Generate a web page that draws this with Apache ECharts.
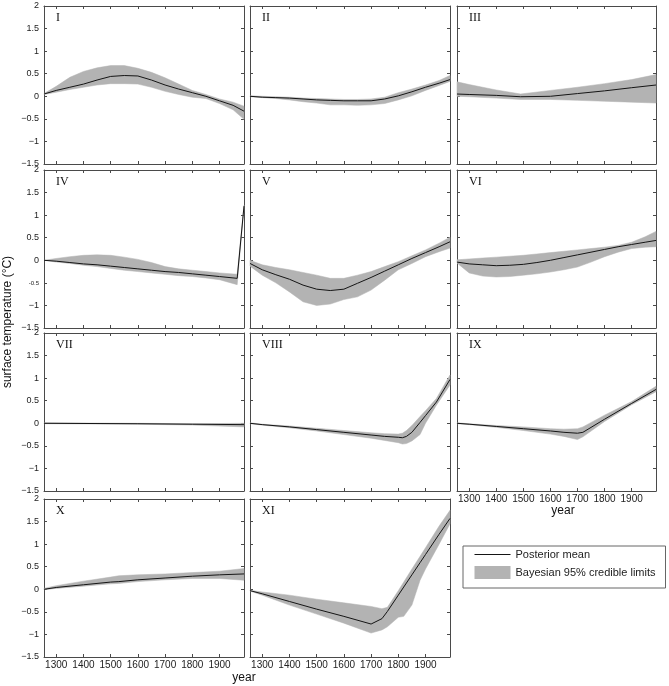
<!DOCTYPE html>
<html>
<head>
<meta charset="utf-8">
<title>Surface temperature reconstructions</title>
<script src="https://cdn.jsdelivr.net/npm/echarts@6/dist/echarts.min.js"></script>
<style>
html, body { margin: 0; padding: 0; background: #fff; }
#chart { width: 669px; height: 686px; }
</style>
</head>
<body>
<div id="chart"></div>
<script>
// year grids
const yearsA = [1255, 1300, 1350, 1400, 1450, 1500, 1550, 1600, 1650, 1700, 1750, 1800, 1850, 1900, 1950, 1990]
const yearsIII = [1255, 1300, 1400, 1490, 1600, 1700, 1800, 1900, 1990]
const yearsIV = [1255, 1300, 1350, 1400, 1450, 1500, 1550, 1600, 1650, 1700, 1750, 1800, 1850, 1900, 1965, 1990]
const yearsVII = [1255, 1600, 1800, 1990]
const yearsVIII = [1255, 1300, 1400, 1500, 1600, 1700, 1750, 1800, 1815, 1830, 1850, 1880, 1900, 1940, 1990]
const yearsIX = [1255, 1300, 1400, 1500, 1600, 1650, 1700, 1720, 1800, 1900, 1990]
const yearsX = [1255, 1300, 1400, 1500, 1530, 1600, 1700, 1800, 1900, 1990]
const yearsXI = [1255, 1300, 1400, 1500, 1600, 1700, 1740, 1760, 1800, 1820, 1850, 1880, 1900, 1950, 1990]

// posterior mean / lower / upper credible limits
const meanI = [0.05, 0.13, 0.2, 0.27, 0.36, 0.44, 0.46, 0.45, 0.36, 0.25, 0.16, 0.08, 0.0, -0.1, -0.2, -0.33]
const loI = [0.04, 0.09, 0.15, 0.2, 0.25, 0.28, 0.28, 0.27, 0.2, 0.11, 0.04, -0.02, -0.05, -0.16, -0.3, -0.51]
const hiI = [0.06, 0.22, 0.42, 0.55, 0.63, 0.68, 0.68, 0.62, 0.53, 0.41, 0.27, 0.13, 0.04, -0.06, -0.13, -0.22]

const meanII = [0, -0.02, -0.03, -0.04, -0.06, -0.08, -0.09, -0.1, -0.1, -0.1, -0.06, 0.01, 0.1, 0.2, 0.29, 0.37]
const loII = [-0.01, -0.03, -0.05, -0.08, -0.12, -0.15, -0.19, -0.19, -0.2, -0.19, -0.16, -0.08, 0.01, 0.13, 0.24, 0.33]
const hiII = [0.01, 0, -0.01, -0.02, -0.04, -0.05, -0.06, -0.07, -0.07, -0.06, -0.02, 0.08, 0.16, 0.25, 0.35, 0.46]

const meanIII = [0.05, 0.04, 0.02, -0.01, 0, 0.06, 0.12, 0.19, 0.25]
const loIII = [0, -0.01, -0.04, -0.07, -0.07, -0.09, -0.11, -0.13, -0.15]
const hiIII = [0.32, 0.26, 0.14, 0.05, 0.13, 0.2, 0.28, 0.37, 0.48]

const meanIV = [0, -0.02, -0.05, -0.08, -0.1, -0.13, -0.16, -0.19, -0.22, -0.25, -0.27, -0.3, -0.33, -0.36, -0.4, 1.2]
const loIV = [0, -0.04, -0.07, -0.11, -0.14, -0.18, -0.22, -0.25, -0.28, -0.31, -0.34, -0.36, -0.39, -0.43, -0.54, 1.18]
const hiIV = [0, 0.04, 0.08, 0.11, 0.12, 0.11, 0.07, 0.02, -0.05, -0.14, -0.19, -0.22, -0.25, -0.28, -0.31, 1.22]

const meanV = [-0.07, -0.21, -0.32, -0.42, -0.55, -0.64, -0.67, -0.64, -0.51, -0.38, -0.24, -0.1, 0.04, 0.17, 0.3, 0.41]
const loV = [-0.13, -0.33, -0.5, -0.7, -0.92, -1.0, -0.97, -0.87, -0.81, -0.66, -0.44, -0.21, -0.07, 0.08, 0.19, 0.27]
const hiV = [0, -0.1, -0.16, -0.21, -0.27, -0.33, -0.4, -0.4, -0.33, -0.25, -0.14, -0.03, 0.1, 0.23, 0.38, 0.51]

const meanVI = [-0.04, -0.08, -0.1, -0.12, -0.11, -0.09, -0.05, 0, 0.06, 0.12, 0.18, 0.24, 0.3, 0.35, 0.4, 0.44]
const loVI = [-0.06, -0.28, -0.35, -0.37, -0.36, -0.33, -0.3, -0.26, -0.21, -0.15, -0.04, 0.08, 0.18, 0.26, 0.29, 0.3]
const hiVI = [0.01, 0.03, 0.05, 0.07, 0.09, 0.11, 0.14, 0.17, 0.2, 0.23, 0.26, 0.29, 0.33, 0.4, 0.52, 0.64]

const meanVII = [0, -0.01, -0.02, -0.03]
const loVII = [-0.01, -0.02, -0.04, -0.08]
const hiVII = [0.01, 0, -0.01, 0]

const meanVIII = [0, -0.03, -0.08, -0.14, -0.2, -0.26, -0.29, -0.31, -0.32, -0.29, -0.2, 0.02, 0.17, 0.47, 0.97]
const loVIII = [-0.01, -0.04, -0.1, -0.17, -0.25, -0.33, -0.38, -0.43, -0.46, -0.45, -0.39, -0.25, 0.0, 0.4, 0.85]
const hiVIII = [0.01, -0.02, -0.06, -0.11, -0.16, -0.21, -0.23, -0.24, -0.22, -0.16, -0.05, 0.15, 0.28, 0.55, 1.07]

const meanIX = [0, -0.02, -0.07, -0.12, -0.17, -0.2, -0.22, -0.2, 0.09, 0.44, 0.75]
const loIX = [-0.01, -0.03, -0.09, -0.16, -0.24, -0.29, -0.36, -0.3, 0.04, 0.41, 0.7]
const hiIX = [0.01, -0.01, -0.05, -0.08, -0.12, -0.13, -0.12, -0.08, 0.18, 0.48, 0.82]

const meanX = [0, 0.04, 0.1, 0.16, 0.17, 0.21, 0.25, 0.29, 0.32, 0.34]
const loX = [-0.01, 0.02, 0.07, 0.12, 0.13, 0.17, 0.21, 0.24, 0.24, 0.2]
const hiX = [0.02, 0.08, 0.18, 0.27, 0.3, 0.32, 0.34, 0.37, 0.4, 0.46]

const meanXI = [-0.03, -0.1, -0.27, -0.44, -0.6, -0.77, -0.65, -0.49, -0.13, 0.05, 0.32, 0.59, 0.77, 1.22, 1.57]
const loXI = [-0.04, -0.13, -0.35, -0.55, -0.75, -0.97, -0.9, -0.83, -0.62, -0.6, -0.35, 0.2, 0.45, 1.0, 1.45]
const hiXI = [-0.02, -0.06, -0.13, -0.22, -0.3, -0.38, -0.43, -0.4, -0.03, 0.16, 0.45, 0.73, 0.92, 1.4, 1.75]

const panelNames = ['I', 'II', 'III', 'IV', 'V', 'VI', 'VII', 'VIII', 'IX', 'X', 'XI']
const xTickYears = [1300, 1400, 1500, 1600, 1700, 1800, 1900]
const yearMin = 1255
const yearMax = 1990
const tempMin = -1.5
const tempMax = 2

const panels = [
  [yearsA, meanI, loI, hiI],
  [yearsA, meanII, loII, hiII],
  [yearsIII, meanIII, loIII, hiIII],
  [yearsIV, meanIV, loIV, hiIV],
  [yearsA, meanV, loV, hiV],
  [yearsA, meanVI, loVI, hiVI],
  [yearsVII, meanVII, loVII, hiVII],
  [yearsVIII, meanVIII, loVIII, hiVIII],
  [yearsIX, meanIX, loIX, hiIX],
  [yearsX, meanX, loX, hiX],
  [yearsXI, meanXI, loXI, hiXI]
]

// layout
const colLeft = [44, 250, 457]
const rowTop = [6, 170, 333, 499]
const panelW = 200
const panelH = 158
const sans = '"Liberation Sans", Arial, sans-serif'
const serif = '"Liberation Serif", "Times New Roman", serif'
const axisColor = '#4a4a4a'
const bandColor = '#b3b3b3'
const meanName = 'Posterior mean'
const bandName = 'Bayesian 95% credible limits'

const fmtTemp = (v) => (v < 0 ? '\u2212' + Math.abs(v) : String(v))

const grids = []
const xAxes = []
const yAxes = []
const series = []
const graphics = []

panels.forEach(([years, mean, lo, hi], i) => {
  const col = i % 3
  const row = Math.floor(i / 3)
  const left = colLeft[col]
  const top = rowTop[row]
  grids.push({ left, top, width: panelW - (col === 2 ? 1 : 0), height: panelH })

  const showX = i >= 8
  const showY = col === 0

  ;['bottom', 'top'].forEach((pos) => {
    xAxes.push({
      type: 'value',
      gridIndex: i,
      position: pos,
      min: yearMin,
      max: yearMax,
      axisLine: { show: true, onZero: false, lineStyle: { color: axisColor, width: 1 } },
      axisTick: { show: true, inside: true, length: 3, customValues: xTickYears, lineStyle: { color: axisColor } },
      axisLabel: {
        show: showX && pos === 'bottom',
        customValues: xTickYears,
        margin: 3,
        fontSize: 10,
        fontFamily: sans,
        color: '#222',
        formatter: (v) => String(v)
      },
      splitLine: { show: false }
    })
  })

  ;['left', 'right'].forEach((pos) => {
    yAxes.push({
      type: 'value',
      gridIndex: i,
      position: pos,
      min: tempMin,
      max: tempMax,
      interval: 0.5,
      axisLine: { show: true, onZero: false, lineStyle: { color: axisColor, width: 1 } },
      axisTick: { show: true, inside: true, length: 3, lineStyle: { color: axisColor } },
      axisLabel: {
        show: showY && pos === 'left',
        margin: 5,
        fontSize: 9,
        fontFamily: sans,
        color: '#222',
        formatter: (v) => (i === 3 && v === -0.5 ? '{s|-0.5}' : fmtTemp(v)),
        rich: { s: { fontSize: 6, fontFamily: sans, color: '#222' } }
      },
      splitLine: { show: false }
    })
  })

  // credible band as a polygon through the axes' scales
  series.push({
    type: 'custom',
    name: bandName,
    xAxisIndex: 2 * i,
    yAxisIndex: 2 * i,
    silent: true,
    z: 1,
    itemStyle: { color: bandColor },
    data: [[years[0], mean[0]]],
    renderItem: (params, api) => {
      const upper = years.map((y, k) => api.coord([y, hi[k]]))
      const lower = years.map((y, k) => api.coord([y, lo[k]])).reverse()
      return {
        type: 'polygon',
        shape: { points: upper.concat(lower) },
        style: { fill: bandColor, stroke: bandColor, lineWidth: 0.5 }
      }
    }
  })

  series.push({
    type: 'line',
    name: meanName,
    xAxisIndex: 2 * i,
    yAxisIndex: 2 * i,
    data: years.map((y, k) => [y, mean[k]]),
    symbol: 'none',
    showSymbol: false,
    silent: true,
    z: 2,
    lineStyle: { color: '#151515', width: 1 },
    itemStyle: { color: '#151515' }
  })

  graphics.push({
    type: 'text',
    x: left + 12,
    y: top + 12,
    style: {
      text: panelNames[i],
      font: '12px ' + serif,
      fill: '#111',
      textAlign: 'left',
      textVerticalAlign: 'middle'
    }
  })
})

graphics.push({
  type: 'text',
  x: 8,
  y: 322,
  rotation: Math.PI / 2,
  style: {
    text: 'surface temperature (\u00b0C)',
    font: '12px ' + sans,
    fill: '#111',
    textAlign: 'center',
    textVerticalAlign: 'middle'
  }
})
graphics.push({
  type: 'text',
  x: 563,
  y: 511,
  style: { text: 'year', font: '12px ' + sans, fill: '#111', textAlign: 'center', textVerticalAlign: 'middle' }
})
graphics.push({
  type: 'text',
  x: 244,
  y: 678,
  style: { text: 'year', font: '12px ' + sans, fill: '#111', textAlign: 'center', textVerticalAlign: 'middle' }
})

const chart = echarts.init(document.getElementById('chart'))
chart.setOption({
  animation: false,
  backgroundColor: '#fff',
  grid: grids,
  xAxis: xAxes,
  yAxis: yAxes,
  legend: {
    orient: 'vertical',
    left: 463,
    top: 546,
    selectedMode: false,
    data: [
      {
        name: meanName,
        itemStyle: { color: 'rgba(0,0,0,0)', borderColor: 'rgba(0,0,0,0)', borderWidth: 0, opacity: 0 },
        lineStyle: { color: '#151515', width: 1 }
      },
      { name: bandName, icon: 'rect', itemStyle: { color: bandColor } }
    ],
    itemWidth: 36,
    itemHeight: 13,
    itemGap: 6,
    padding: [3, 10, 9, 11],
    borderColor: '#666',
    borderWidth: 1,
    textStyle: { fontFamily: sans, fontSize: 11, color: '#222' }
  },
  graphic: graphics,
  series
})
</script>
</body>
</html>
